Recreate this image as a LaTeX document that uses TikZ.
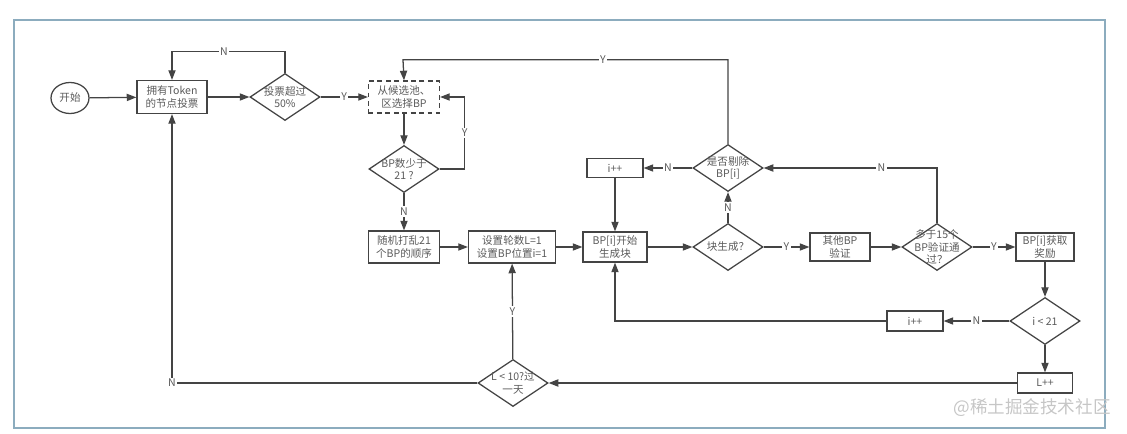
\documentclass[tikz,border=0pt]{standalone}
\usepackage{fontspec}
\setmainfont{Noto Sans CJK SC}
\usetikzlibrary{arrows.meta, shapes.geometric}
\definecolor{linegray}{RGB}{68,68,68}
\definecolor{textgray}{RGB}{90,90,90}
\definecolor{framec}{RGB}{140,172,190}

\begin{document}
\begin{tikzpicture}[x=0.025cm, y=-0.025cm,
	every node/.style={font=\fontsize{7.5}{8.8}\selectfont, text=textgray},
	box/.style={draw=linegray, line width=0.9pt, align=center, inner sep=1pt},
	dashbox/.style={box, dash pattern=on 3.5pt off 2.5pt},
	term/.style={ellipse, draw=linegray, line width=0.9pt, minimum width=0.95cm, minimum height=0.775cm, inner sep=0pt},
	dtext/.style={align=center, inner sep=0pt},
	dia/.style={diamond, draw=linegray, line width=0.9pt, minimum width=1.75cm, minimum height=1.175cm, inner sep=0pt, label={[dtext]center:#1}},
	lbl/.style={fill=white, inner sep=1pt},
	arr/.style={-{Triangle[length=2.4mm, width=1.8mm]}, draw=linegray, line width=0.9pt}]
	\useasboundingbox (0,0) rectangle (1127,434);
	\draw[framec, line width=1pt] (14,20) rectangle (1105,428);
	% first row
	\node[term] (start) at (70,98) {开始};
	\node[box, minimum width=1.75cm, minimum height=0.825cm] (token) at (172,97) {拥有Token\\的节点投票};
	\node[dia={投票超过\\50\%}] (vote) at (285,97) {};
	\node[dashbox, minimum width=1.775cm, minimum height=0.8cm] (pool) at (404,97) {从候选池、\\区选择BP};
	\node[dia={BP数少于\\21 ?}] (few) at (404,169) {};
	% middle row
	\node[box, minimum width=1.775cm, minimum height=0.8cm] (shuffle) at (404,247) {随机打乱21\\个BP的顺序};
	\node[box, minimum width=2.175cm, minimum height=0.8cm] (set) at (512,247) {设置轮数L=1\\设置BP位置i=1};
	\node[box, minimum width=1.6cm, minimum height=0.75cm] (gen) at (615,247) {BP[i]开始\\生成块};
	\node[box, minimum width=1.4cm, minimum height=0.475cm] (inc1) at (615,168) {i++};
	\node[dia={是否剔除\\BP[i]}] (rm) at (728,168) {};
	\node[dia={块生成？}] (blk) at (728,247) {};
	\node[box, minimum width=1.5cm, minimum height=0.7cm] (other) at (840,247) {其他BP\\验证};
	\node[dia={多于15个\\BP验证通\\过？}] (pass) at (937,247) {};
	\node[box, minimum width=1.45cm, minimum height=0.7cm] (reward) at (1045,247) {BP[i]获取\\奖励};
	% bottom rows
	\node[dia={i < 21}] (lt) at (1045,321) {};
	\node[box, minimum width=1.4cm, minimum height=0.5cm] (inc2) at (915,321) {i++};
	\node[box, minimum width=1.375cm, minimum height=0.5cm] (lpp) at (1045,383) {L++};
	\node[dia={L < 10?过\\一天}] (day) at (513,383) {};
	\node[text=gray!45, font=\fontsize{12.5}{13}\selectfont] (wm) at (1032,408) {@稀土掘金技术社区};

	\draw[arr] (start) -- (token);
	\draw[arr] (token) -- (vote);
	\draw[arr] (vote.north) -- ++(0,-21) -| node[lbl, pos=0.27] {N} (token.north);
	\draw[arr] (vote) -- node[lbl] {Y} (pool);
	\draw[arr] (rm.north) -- ++(0,-84) -- node[lbl, pos=0.385] {Y} ++(-325,0) -- (pool.north);
	\draw[arr] (pool) -- (few);
	\draw[arr] (few.east) -- ++(25,0) |- node[lbl, pos=0.25] {Y} (pool.east);
	\draw[arr] (few) -- node[lbl] {N} (shuffle);
	\draw[arr] (shuffle) -- (set);
	\draw[arr] (set) -- (gen);
	\draw[arr] (gen) -- (blk);
	\draw[arr] (blk) -- node[lbl] {N} (rm);
	\draw[arr] (rm) -- node[lbl] {N} (inc1);
	\draw[arr] (inc1) -- (gen);
	\draw[arr] (blk) -- node[lbl] {Y} (other);
	\draw[arr] (other) -- (pass);
	\draw[arr] (pass.north) |- node[lbl, pos=0.66] {N} (rm.east);
	\draw[arr] (pass) -- node[lbl] {Y} (reward);
	\draw[arr] (reward) -- (lt);
	\draw[arr] (lt) -- node[lbl] {N} (inc2);
	\draw[arr] (inc2.west) -| (gen.south);
	\draw[arr] (lt) -- (lpp);
	\draw[arr] (lpp) -- (day);
	\draw[arr] (day) -- node[lbl] {Y} (set);
	\draw[arr] (day.west) -| node[lbl, pos=0.5] {N} (token.south);
\end{tikzpicture}
\end{document}
